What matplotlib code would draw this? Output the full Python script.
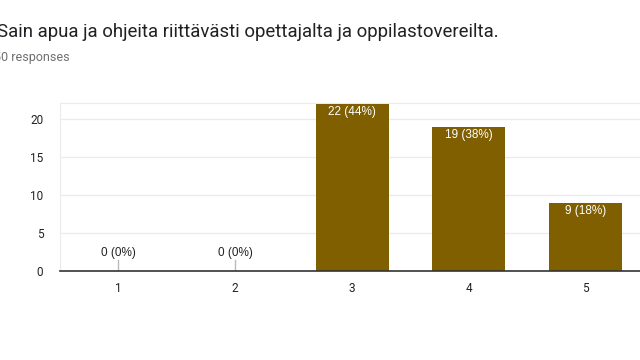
import matplotlib
matplotlib.use("Agg")
import matplotlib.pyplot as plt

categories = ["1", "2", "3", "4", "5"]
counts = [0, 0, 22, 19, 9]
labels = ["0 (0%)", "0 (0%)", "22 (44%)", "19 (38%)", "9 (18%)"]
yticks = [0, 5, 10, 15, 20]
title = "Sain apua ja ohjeita riittävästi opettajalta ja oppilastovereilta."
subtitle = "50 responses"

plt.rcParams['font.family'] = ['Roboto', 'DejaVu Sans']

fig = plt.figure(figsize=(6.4, 3.6), dpi=100)
ax = fig.add_axes([60/640, 1-271/360, 584/640, 168/360])

x = list(range(len(categories)))
ax.bar(x, counts, width=0.625, color="#7F5F00", zorder=3)
ax.set_xlim(-0.5, len(categories) - 0.5)
ax.set_ylim(0, 22.1)
ax.set_yticks(yticks)
ax.set_yticklabels([str(v) for v in yticks])
ax.set_xticks(x)
ax.set_xticklabels(categories)
ax.tick_params(axis='both', length=0, labelsize=8.5, colors="#222222")
ax.tick_params(axis='y', pad=12)
ax.tick_params(axis='x', pad=8)
ax.yaxis.grid(True, color="#EBEBEB", linewidth=1, zorder=0)
for s in ["left", "top"]:
    ax.spines[s].set_color("#EBEBEB")
ax.spines["right"].set_visible(False)
ax.spines["bottom"].set_color("#333333")
ax.spines["bottom"].set_linewidth(1.2)
ax.spines["bottom"].set_zorder(4)

for xi, c, lab in zip(x, counts, labels):
    if c == 0:
        ax.plot([xi, xi], [0, 1.45], color="#BBBBBB", linewidth=1, zorder=2)
        ax.text(xi, 1.6, lab, ha="center", va="bottom", fontsize=8.5,
                family=['Liberation Sans', 'DejaVu Sans'], color="#222222")
    else:
        ax.text(xi, c - 0.35, lab, ha="center", va="top", fontsize=8.5,
                family=['Liberation Sans', 'DejaVu Sans'], color="white", zorder=5)

fig.text(-3/640, 1-32/360, title, fontsize=13.4, color="#202124", va="center", ha="left")
fig.text(-6/640, 1-58/360, subtitle, fontsize=9, color="#6F6F6F", va="center", ha="left")

fig.savefig("out.png", dpi=100)
